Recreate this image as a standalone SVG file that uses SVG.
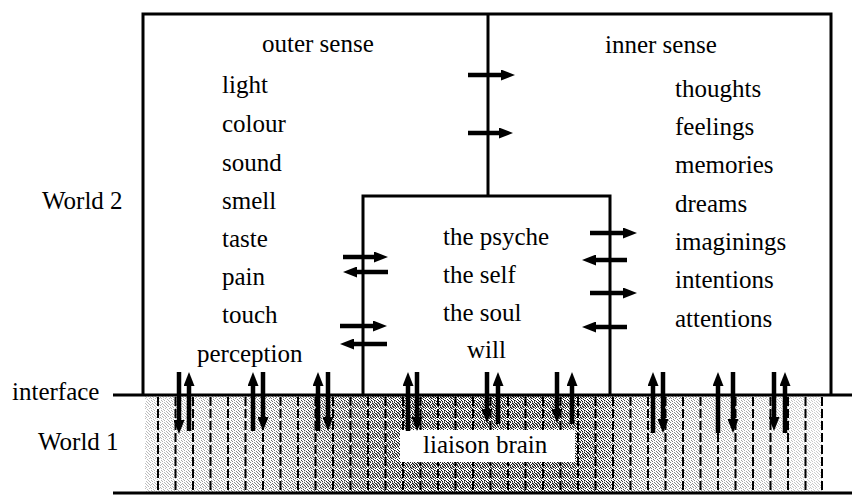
<svg xmlns="http://www.w3.org/2000/svg" width="852" height="495" viewBox="0 0 852 495">
<style>
text{font-family:"Liberation Serif","Times New Roman",serif;font-size:25px;fill:#000}
.box{fill:none;stroke:#000;stroke-width:3}
.ln{stroke:#000;stroke-width:3}
.dash{stroke:#000;stroke-width:2;stroke-dasharray:9 3}
.arr{stroke:#000;stroke-width:4.5;marker-end:url(#ah)}
</style>
<defs>
<marker id="ah" markerUnits="userSpaceOnUse" markerWidth="14" markerHeight="11" viewBox="0 0 14 11" refX="1" refY="5.5" orient="auto">
<path d="M0,0 L14,5.5 L0,11 z" fill="#000"/>
</marker>
<pattern id="stip" width="10" height="10" patternUnits="userSpaceOnUse">
<path fill="#111" d="M1,0h1v1h-1z M4,0h1v1h-1z M8,0h1v1h-1z M2,1h1v1h-1z M6,1h1v1h-1z M9,1h1v1h-1z M0,2h1v1h-1z M4,2h1v1h-1z M7,2h1v1h-1z M2,3h1v1h-1z M5,3h1v1h-1z M8,3h1v1h-1z M1,4h1v1h-1z M3,4h1v1h-1z M6,4h1v1h-1z M9,4h1v1h-1z M0,5h1v1h-1z M4,5h1v1h-1z M7,5h1v1h-1z M2,6h1v1h-1z M5,6h1v1h-1z M8,6h1v1h-1z M0,7h1v1h-1z M3,7h1v1h-1z M6,7h1v1h-1z M1,8h1v1h-1z M5,8h1v1h-1z M9,8h1v1h-1z M3,9h1v1h-1z M7,9h1v1h-1z"/>
</pattern>
<pattern id="stip2" href="#stip" patternTransform="translate(5,3)"/>
<linearGradient id="dens" gradientUnits="userSpaceOnUse" x1="145" y1="0" x2="822" y2="0">
<stop offset="0" stop-color="#444"/>
<stop offset="0.17" stop-color="#888"/>
<stop offset="0.27" stop-color="#ccc"/>
<stop offset="0.4" stop-color="#fff"/>
<stop offset="0.67" stop-color="#fff"/>
<stop offset="0.73" stop-color="#999"/>
<stop offset="0.85" stop-color="#666"/>
<stop offset="1" stop-color="#333"/>
</linearGradient>
<linearGradient id="dens2" gradientUnits="userSpaceOnUse" x1="145" y1="0" x2="822" y2="0">
<stop offset="0.2" stop-color="#000"/>
<stop offset="0.32" stop-color="#888"/>
<stop offset="0.45" stop-color="#aaa"/>
<stop offset="0.63" stop-color="#999"/>
<stop offset="0.72" stop-color="#000"/>
</linearGradient>
<mask id="m"><rect x="145" y="396" width="677" height="96" fill="url(#dens)"/></mask>
<mask id="m2"><rect x="145" y="396" width="677" height="96" fill="url(#dens2)"/></mask>
</defs>

<g id="world1">
<rect x="145" y="396" width="677" height="96" fill="url(#stip)" mask="url(#m)"/>
<rect x="145" y="396" width="677" height="96" fill="url(#stip2)" mask="url(#m2)"/>
<g id="dashes" class="dash">
<line x1="158" y1="397" x2="158" y2="491"/><line x1="175.5" y1="397" x2="175.5" y2="491"/><line x1="193" y1="397" x2="193" y2="491"/><line x1="210.5" y1="397" x2="210.5" y2="491"/><line x1="228" y1="397" x2="228" y2="491"/><line x1="245.5" y1="397" x2="245.5" y2="491"/><line x1="263" y1="397" x2="263" y2="491"/><line x1="280.5" y1="397" x2="280.5" y2="491"/><line x1="298" y1="397" x2="298" y2="491"/><line x1="315.5" y1="397" x2="315.5" y2="491"/><line x1="333" y1="397" x2="333" y2="491"/><line x1="350.5" y1="397" x2="350.5" y2="491"/><line x1="368" y1="397" x2="368" y2="491"/><line x1="385.5" y1="397" x2="385.5" y2="491"/><line x1="403" y1="397" x2="403" y2="491"/><line x1="420.5" y1="397" x2="420.5" y2="491"/><line x1="438" y1="397" x2="438" y2="491"/><line x1="455.5" y1="397" x2="455.5" y2="491"/><line x1="473" y1="397" x2="473" y2="491"/><line x1="490.5" y1="397" x2="490.5" y2="491"/><line x1="508" y1="397" x2="508" y2="491"/><line x1="525.5" y1="397" x2="525.5" y2="491"/><line x1="543" y1="397" x2="543" y2="491"/><line x1="560.5" y1="397" x2="560.5" y2="491"/><line x1="578" y1="397" x2="578" y2="491"/><line x1="595.5" y1="397" x2="595.5" y2="491"/><line x1="613" y1="397" x2="613" y2="491"/><line x1="630.5" y1="397" x2="630.5" y2="491"/><line x1="648" y1="397" x2="648" y2="491"/><line x1="665.5" y1="397" x2="665.5" y2="491"/><line x1="683" y1="397" x2="683" y2="491"/><line x1="700.5" y1="397" x2="700.5" y2="491"/><line x1="718" y1="397" x2="718" y2="491"/><line x1="735.5" y1="397" x2="735.5" y2="491"/><line x1="753" y1="397" x2="753" y2="491"/><line x1="770.5" y1="397" x2="770.5" y2="491"/><line x1="788" y1="397" x2="788" y2="491"/><line x1="805.5" y1="397" x2="805.5" y2="491"/><line x1="822" y1="397" x2="822" y2="491"/>
</g>
<line class="ln" x1="113" y1="395" x2="852" y2="395"/>
<line class="ln" x1="113" y1="493" x2="852" y2="493"/>
</g>

<g id="boxes">
<path class="box" d="M143,395 V14 H831 V395"/>
<line class="ln" x1="488" y1="14" x2="488" y2="196"/>
<path class="box" d="M363,395 V196 H610 V395"/>
</g>

<g id="liaison-brain">
<rect x="400" y="430" width="175" height="32" fill="#fff"/>
<text x="423" y="453">liaison brain</text>
</g>

<g id="labels">
<text x="42" y="209">World 2</text>
<text x="12" y="400">interface</text>
<text x="38" y="450">World 1</text>
</g>

<g id="outer-sense">
<text x="262" y="52">outer sense</text>
<text x="222" y="93">light</text>
<text x="222" y="132">colour</text>
<text x="222" y="171">sound</text>
<text x="222" y="209">smell</text>
<text x="222" y="247">taste</text>
<text x="222" y="285">pain</text>
<text x="222" y="323">touch</text>
<text x="197" y="362">perception</text>
</g>

<g id="inner-sense">
<text x="605" y="53">inner sense</text>
<text x="675" y="97">thoughts</text>
<text x="675" y="135">feelings</text>
<text x="675" y="173">memories</text>
<text x="675" y="212">dreams</text>
<text x="675" y="250">imaginings</text>
<text x="675" y="288">intentions</text>
<text x="675" y="327">attentions</text>
</g>

<g id="psyche">
<text x="443" y="245">the psyche</text>
<text x="443" y="283">the self</text>
<text x="443" y="321">the soul</text>
<text x="467" y="358">will</text>
</g>

<g id="connectors">
<line class="arr" x1="468" y1="75" x2="502" y2="75"/>
<line class="arr" x1="468" y1="133" x2="500" y2="133"/>
<line class="arr" x1="343" y1="257" x2="375" y2="257"/>
<line class="arr" x1="388" y1="272" x2="356" y2="272"/>
<line class="arr" x1="340" y1="326" x2="374" y2="326"/>
<line class="arr" x1="387" y1="344" x2="353" y2="344"/>
<line class="arr" x1="590" y1="233" x2="624" y2="233"/>
<line class="arr" x1="627" y1="260" x2="595" y2="260"/>
<line class="arr" x1="590" y1="293" x2="624" y2="293"/>
<line class="arr" x1="627" y1="327" x2="595" y2="327"/>
<line class="arr" x1="179" y1="372" x2="179" y2="421"/>
<line class="arr" x1="189" y1="431" x2="189" y2="385"/>
<line class="arr" x1="253" y1="431" x2="253" y2="385"/>
<line class="arr" x1="263" y1="372" x2="263" y2="418"/>
<line class="arr" x1="318" y1="431" x2="318" y2="385"/>
<line class="arr" x1="328" y1="372" x2="328" y2="418"/>
<line class="arr" x1="408" y1="431" x2="408" y2="385"/>
<line class="arr" x1="417" y1="372" x2="417" y2="418"/>
<line class="arr" x1="487" y1="372" x2="487" y2="410"/>
<line class="arr" x1="498" y1="424" x2="498" y2="385"/>
<line class="arr" x1="557" y1="372" x2="557" y2="410"/>
<line class="arr" x1="572" y1="424" x2="572" y2="385"/>
<line class="arr" x1="653" y1="433" x2="653" y2="385"/>
<line class="arr" x1="663" y1="372" x2="663" y2="420"/>
<line class="arr" x1="718" y1="433" x2="718" y2="385"/>
<line class="arr" x1="733" y1="372" x2="733" y2="420"/>
<line class="arr" x1="774" y1="372" x2="774" y2="418"/>
<line class="arr" x1="785" y1="433" x2="785" y2="385"/>
</g>
</svg>
